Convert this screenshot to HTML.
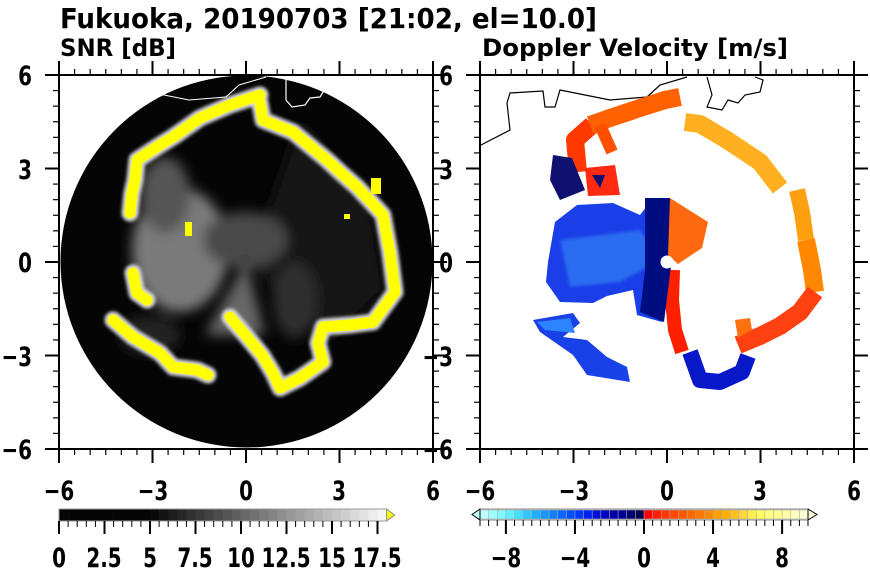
<!DOCTYPE html>
<html><head><meta charset="utf-8"><style>
html,body{margin:0;padding:0;background:#fff;}
svg{display:block;font-family:"DejaVu Sans Condensed","DejaVu Sans","Liberation Sans",sans-serif;font-weight:bold;}
.c{transform-box:fill-box;transform-origin:center;transform:scaleX(.82);}
.r{transform-box:fill-box;transform-origin:right center;transform:scaleX(.82);}
</style></head><body>
<svg id="s" width="870" height="570" viewBox="0 0 870 570" xmlns="http://www.w3.org/2000/svg">
<defs>
<filter id="b6" x="-50%" y="-50%" width="200%" height="200%"><feGaussianBlur stdDeviation="6"/></filter>
<filter id="b2" x="-20%" y="-20%" width="140%" height="140%"><feGaussianBlur stdDeviation="1.5"/></filter>
<clipPath id="cl"><circle cx="246.5" cy="261.5" r="186"/></clipPath>
<clipPath id="fr"><rect x="480" y="75" width="374" height="374"/></clipPath>
<clipPath id="fl"><rect x="59" y="75" width="374" height="374"/></clipPath>
</defs>

<text x="60" y="28" font-size="28" textLength="537" lengthAdjust="spacingAndGlyphs">Fukuoka, 20190703 [21:02, el=10.0]</text>
<text x="60" y="56" font-size="24" textLength="116" lengthAdjust="spacingAndGlyphs">SNR [dB]</text>
<text x="482" y="56" font-size="24" textLength="306" lengthAdjust="spacingAndGlyphs">Doppler Velocity [m/s]</text>

<!-- LEFT PANEL -->
<g clip-path="url(#fl)">
<circle cx="246.5" cy="261.5" r="186" fill="#050505"/>
<g clip-path="url(#cl)">
<g filter="url(#b6)">
<path d="M300,120 L370,200 L385,290 L330,340 L280,300 L250,262 Z" fill="#151515"/>
<ellipse cx="180" cy="250" rx="48" ry="62" fill="#7a7a7a"/>
<ellipse cx="165" cy="195" rx="25" ry="38" fill="#555"/>
<ellipse cx="245" cy="240" rx="42" ry="28" fill="#4a4a4a"/>
<path d="M246,262 L205,335 L265,335 Z" fill="#666"/>
<ellipse cx="295" cy="300" rx="22" ry="38" fill="#2e2e2e"/>
<ellipse cx="150" cy="335" rx="30" ry="20" fill="#222"/>
<ellipse cx="350" cy="250" rx="20" ry="40" fill="#181818"/>
</g>
<circle cx="246" cy="261" r="7" fill="#444"/>
<g fill="none" stroke-linejoin="round" stroke-linecap="round">
<g stroke="#d8d8d8" stroke-width="17" filter="url(#b2)">
<polyline points="260,95 230,105 200,118 173,137 160,145 137,160 135,180 132,193 130,213"/>
<polyline points="133,273 137,293 147,300"/>
<polyline points="113,320 133,337 160,353 173,367 197,370 208,375"/>
<polyline points="230,317 247,337 262,355 273,373 280,388 300,378 323,362 318,343 323,327 350,325 373,322 395,292 390,253 383,215 372,203 357,187 340,172 327,160 293,132 263,120 260,103"/>
</g>
<g stroke="#ffff00" stroke-width="11">
<polyline points="260,95 230,105 200,118 173,137 160,145 137,160 135,180 132,193 130,213"/>
<polyline points="133,273 137,293 147,300"/>
<polyline points="113,320 133,337 160,353 173,367 197,370 208,375"/>
<polyline points="230,317 247,337 262,355 273,373 280,388 300,378 323,362 318,343 323,327 350,325 373,322 395,292 390,253 383,215 372,203 357,187 340,172 327,160 293,132 263,120 260,103"/>
</g>
</g>
<g fill="#ff0">
<rect x="371" y="178" width="10" height="16"/><rect x="185" y="222" width="7" height="14"/><rect x="344" y="214" width="6" height="5"/>
</g>
</g>
<polyline fill="none" stroke="#fff" stroke-width="1" points="60,145 89,130 86,103 89,93 122,91 124,107 134,107 139,90 189,100 226,97 239,85 266,77"/>
<path d="M286,77 L286,100 L292,107 L305,105 L310,98 L320,97 L330,80" fill="none" stroke="#fff" stroke-width="1.2"/>
</g>

<!-- RIGHT PANEL -->
<g clip-path="url(#fr)">
<polyline fill="none" stroke="#000" stroke-width="1.2" points="481,145 510,130 507,103 510,93 543,91 545,107 555,107 560,90 610,100 647,97 660,85 687,77"/>
<path d="M707,77 L712,95 L707,107 L722,110 L728,100 L738,103 L745,95 L760,92 L763,80 L755,77" fill="none" stroke="#000" stroke-width="1.2"/>
<g fill="none" stroke-linejoin="round" stroke-linecap="butt">
<polyline stroke="#ff3a00" stroke-width="18" points="578,172 575,140 592,125"/>
<polyline stroke="#ff6000" stroke-width="18" points="590,125 610,118 640,108 665,100 680,97"/>
<polyline stroke="#ff5000" stroke-width="12" points="600,125 612,152"/>
<polyline stroke="#ffb020" stroke-width="18" points="685,122 700,124 727,140 760,162 780,188"/>
<polyline stroke="#ffa010" stroke-width="16" points="797,190 802,212 806,240"/>
<polyline stroke="#ff8800" stroke-width="18" points="806,240 812,270 815,292"/>
<polyline stroke="#ff4010" stroke-width="18" points="815,292 800,312 780,326 760,336 738,345"/>
<polyline stroke="#ff2000" stroke-width="14" points="673,270 672,300 675,330 682,352"/>
<polyline stroke="#0818c8" stroke-width="16" points="690,352 700,380 720,382 742,372 748,356"/>
</g>
<path d="M553,155 L572,158 L585,190 L560,200 L550,180 Z" fill="#101070"/>
<path d="M585,168 L615,165 L620,195 L588,196 Z" fill="#ff2a10"/>
<path d="M592,175 L605,175 L600,188 Z" fill="#101070"/>
<path d="M548,262 L555,222 L577,205 L613,203 L640,215 L653,198 L670,198 L673,258 L667,273 L662,322 L637,315 L633,290 L607,296 L593,303 L560,302 L546,282 Z" fill="#1a3ee8"/>
<path d="M560,240 L640,230 L660,260 L620,282 L570,287 Z" fill="#2a6cf0" filter="url(#b2)"/>
<path d="M645,198 L670,198 L672,258 L664,322 L640,312 L645,270 Z" fill="#000d80"/>
<path d="M670,198 L708,222 L702,248 L678,264 L668,255 Z" fill="#ff6a10"/>
<path d="M533,320 L573,313 L580,323 L563,337 L587,340 L607,357 L627,367 L630,382 L587,375 L573,355 L540,332 Z" fill="#1a40e8"/>
<path d="M537,322 L570,318 L575,333 L545,330 Z" fill="#2d84ff"/>
<path d="M735,320 L750,318 L752,330 L738,338 Z" fill="#ff7010"/>
<circle cx="667" cy="262" r="6.5" fill="#fff"/>
</g>

<g id="axes" fill="none" stroke="#000"></g>
<g id="cb"></g>

<g font-size="27" text-anchor="end">
<text class="r" x="32" y="85">6</text><text class="r" x="32" y="179">3</text><text class="r" x="32" y="272">0</text><text class="r" x="32" y="366">−3</text><text class="r" x="32" y="459">−6</text>
<text class="r" x="453" y="85">6</text><text class="r" x="453" y="179">3</text><text class="r" x="453" y="272">0</text><text class="r" x="453" y="366">−3</text><text class="r" x="453" y="459">−6</text>
</g>
<g font-size="27" text-anchor="middle">
<text class="c" x="59" y="500">−6</text><text class="c" x="153" y="500">−3</text><text class="c" x="246" y="500">0</text><text class="c" x="339" y="500">3</text><text class="c" x="433" y="500">6</text>
<text class="c" x="480" y="500">−6</text><text class="c" x="574" y="500">−3</text><text class="c" x="667" y="500">0</text><text class="c" x="760" y="500">3</text><text class="c" x="854" y="500">6</text>
<text class="c" x="59" y="567">0</text><text class="c" x="104" y="567">2.5</text><text class="c" x="150" y="567">5</text><text class="c" x="195" y="567">7.5</text><text class="c" x="241" y="567">10</text><text class="c" x="286" y="567">12.5</text><text class="c" x="332" y="567">15</text><text class="c" x="377" y="567">17.5</text>
<text class="c" x="506" y="567">−8</text><text class="c" x="575" y="567">−4</text><text class="c" x="644" y="567">0</text><text class="c" x="713" y="567">4</text><text class="c" x="782" y="567">8</text>
</g>
</svg>
<script>
var NS="http://www.w3.org/2000/svg";
function el(p,t,a){var e=document.createElementNS(NS,t);for(var k in a)e.setAttribute(k,a[k]);p.appendChild(e);return e;}
var ax=document.getElementById("axes");
[[59,433],[480,854]].forEach(function(f){
 var x0=f[0],x1=f[1],y0=75,y1=449,u=(x1-x0)/12;
 el(ax,"line",{x1:x0-14,y1:y0,x2:x1+14,y2:y0,"stroke-width":2});
 el(ax,"line",{x1:x0-14,y1:y1,x2:x1+14,y2:y1,"stroke-width":2});
 el(ax,"line",{x1:x0,y1:y0-14,x2:x0,y2:y1+14,"stroke-width":2});
 el(ax,"line",{x1:x1,y1:y0-14,x2:x1,y2:y1+14,"stroke-width":2});
 for(var i=0;i<=24;i++){
  var m=(i%6==0),L=m?14:6,w=m?2:1.2;
  var x=x0+i*u/2,y=y0+i*u/2;
  el(ax,"line",{x1:x,y1:y1,x2:x,y2:y1+L,"stroke-width":w});
  el(ax,"line",{x1:x,y1:y0,x2:x,y2:y0-(m?14:6),"stroke-width":w});
  el(ax,"line",{x1:x0,y1:y,x2:x0-L,y2:y,"stroke-width":w});
  el(ax,"line",{x1:x1,y1:y,x2:x1+L,y2:y,"stroke-width":w});
 }
});
var cb=document.getElementById("cb");
var lx0=59,lu=18.2,cw=lu/2;
for(var i=0;i<36;i++){
 var v=i<10?5:Math.round(10+(i-10)*(235/25));
 el(cb,"rect",{x:lx0+i*cw,y:509,width:cw+0.3,height:12,fill:"rgb("+v+","+v+","+v+")"});
}
var le=lx0+36*cw;
el(cb,"path",{d:"M"+le+",509 L"+(le+8)+",515 L"+le+",521 Z",fill:"#ff0",stroke:"#888"});
el(cb,"rect",{x:lx0,y:509,width:36*cw,height:12,fill:"none",stroke:"#999","stroke-width":1});
for(var i=0;i<=35;i++){var x=lx0+i*cw,m=(i%5==0);el(cb,"line",{x1:x,y1:521,x2:x,y2:m?534:527,stroke:"#000","stroke-width":m?2:1});}
var rb=["#c0ffff","#a0ffff","#80f8ff","#60f0ff","#40e0ff","#30c8ff","#20b0ff","#1898ff","#1080ff","#0868ff","#0050ff","#0038ff","#0020f0","#0010d8","#0008c0","#0000a8","#000090","#000070","#000050"];
var rr=["#ff0000","#ff2000","#ff3800","#ff4800","#ff5800","#ff6800","#ff7800","#ff8800","#ffa000","#ffb000","#ffc020","#ffd840","#fff050","#ffff60","#ffff80","#ffff90","#ffffa8","#ffffc0","#ffffd8"];
var cols=rb.concat(rr),rx0=480,rw=(808-480)/38;
for(var i=0;i<38;i++)el(cb,"rect",{x:rx0+i*rw,y:510,width:rw+0.3,height:9,fill:cols[i],stroke:"#aaa","stroke-width":0.6});
el(cb,"path",{d:"M480,509 L472,514.5 L480,520 Z",fill:"#c0ffff",stroke:"#000"});
el(cb,"path",{d:"M808,509 L817,514.5 L808,520 Z",fill:"#ffffd8",stroke:"#000"});
el(cb,"line",{x1:480,y1:509,x2:808,y2:509,stroke:"#888"});
el(cb,"line",{x1:480,y1:520,x2:808,y2:520,stroke:"#888"});
for(var i=0;i<=38;i++){var x=rx0+i*rw;var mm=(i==3||i==11||i==19||i==27||i==35);el(cb,"line",{x1:x,y1:520,x2:x,y2:mm?534:526,stroke:"#000","stroke-width":mm?2:1});}
</script>
</body></html>
